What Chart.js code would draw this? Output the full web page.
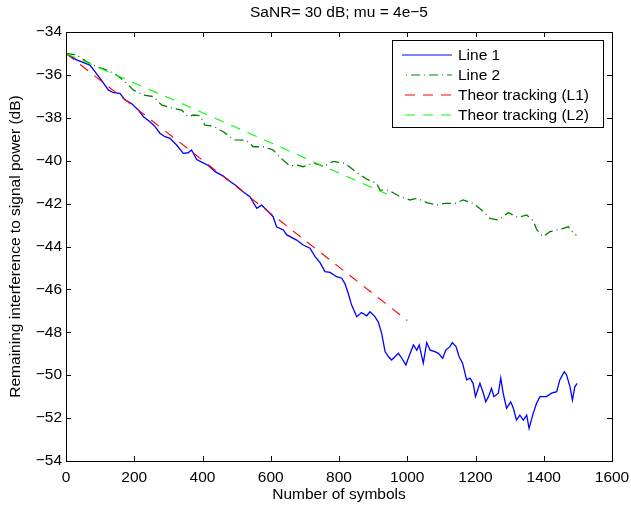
<!DOCTYPE html>
<html>
<head>
<meta charset="utf-8">
<script src="https://cdn.jsdelivr.net/npm/chart.js@4.4.1/dist/chart.umd.min.js"></script>
<style>
  html, body { margin: 0; padding: 0; background: #fff; }
  #wrap { width: 631px; height: 507px; }
</style>
</head>
<body>
<div id="wrap"><canvas id="chart" width="631" height="507"></canvas></div>
<script>
// Residual interference vs. number of symbols (SaNR 30 dB, mu = 4e-5)
const xTicks = [0, 200, 400, 600, 800, 1000, 1200, 1400, 1600];
const yTicks = [-54, -52, -50, -48, -46, -44, -42, -40, -38, -36, -34];

const line1X = [0, 31, 70, 100, 124, 139, 158, 173, 192, 212, 227, 246, 261, 275, 290, 305, 324, 344, 358, 368,
  383, 402, 417, 437, 461, 480, 500, 519, 539, 559, 573, 588, 607, 617, 637, 647, 676, 695, 715, 730,
  744, 759, 774, 793, 808, 817, 827, 837, 852, 866, 881, 891, 905, 915, 925, 935, 945, 954, 964, 974,
  984, 996, 1003, 1018, 1028, 1035, 1047, 1057, 1067, 1081, 1091, 1104, 1113, 1125, 1132, 1143, 1152, 1162, 1174, 1184,
  1193, 1200, 1213, 1223, 1230, 1238, 1247, 1254, 1267, 1274, 1281, 1291, 1303, 1311, 1320, 1330, 1340, 1350, 1357, 1369,
  1379, 1389, 1408, 1423, 1438, 1447, 1460, 1467, 1477, 1484, 1491, 1498];
const line1Y = [-35.0, -35.3, -35.54, -36.16, -36.70, -36.83, -36.86, -37.17, -37.33, -37.64, -37.95, -38.18, -38.41, -38.72, -38.88, -38.96, -39.27, -39.66, -39.63, -39.50,
  -39.95, -40.10, -40.22, -40.51, -40.72, -40.96, -41.18, -41.45, -41.68, -42.22, -42.07, -42.30, -42.61, -43.08, -43.23, -43.46, -43.70, -43.93, -44.08, -44.47,
  -44.74, -45.17, -45.21, -45.41, -45.48, -45.72, -46.18, -46.73, -47.27, -47.08, -47.23, -47.04, -47.27, -47.51, -48.05, -48.90, -49.14, -49.29, -49.14, -48.98,
  -49.21, -49.52, -49.21, -48.59, -48.83, -48.59, -49.44, -48.48, -48.83, -48.90, -48.98, -49.21, -48.83, -48.67, -48.48, -48.67, -49.14, -49.44, -50.22, -50.14,
  -50.38, -51.00, -50.38, -50.84, -51.24, -51.00, -50.61, -51.00, -50.84, -50.14, -50.84, -51.54, -51.24, -51.54, -52.09, -51.86, -52.09, -51.86, -52.48, -51.78,
  -51.31, -51.00, -51.00, -50.84, -50.77, -50.22, -49.84, -49.99, -50.54, -51.16, -50.54, -50.38];

const line2X = [0, 31, 60, 90, 119, 148, 173, 197, 226, 256, 280, 314, 339, 358, 373, 393, 407, 432, 451, 461,
  480, 495, 529, 549, 578, 607, 627, 656, 676, 695, 725, 744, 754, 783, 817, 852, 881, 910, 920, 945,
  979, 1008, 1028, 1057, 1086, 1110, 1140, 1164, 1193, 1218, 1242, 1267, 1296, 1325, 1350, 1369, 1379, 1398, 1418, 1438,
  1457, 1472, 1491, 1496];
const line2Y = [-35.0, -35.07, -35.38, -35.62, -35.77, -36.00, -36.32, -36.70, -36.94, -37.01, -37.40, -37.56, -37.64, -37.95, -37.87, -37.90, -38.34, -38.38, -38.57, -38.65,
  -38.88, -39.03, -39.05, -39.35, -39.35, -39.50, -39.85, -40.24, -40.20, -40.28, -40.12, -40.20, -40.28, -40.03, -40.12, -40.55, -40.86, -41.05, -41.37, -41.37,
  -41.68, -41.83, -41.75, -41.95, -42.07, -41.99, -41.99, -41.83, -41.99, -42.30, -42.69, -42.77, -42.42, -42.65, -42.53, -42.80, -43.20, -43.54, -43.31, -43.23,
  -43.15, -43.08, -43.46, -43.46];

const theor1X = [0, 217, 632, 1000];
const theor1Y = [-35.0, -37.70, -42.86, -47.45];

const theor2X = [0, 349, 794, 940];
const theor2Y = [-35.0, -37.40, -40.53, -41.55];

const seriesNames = ['Line 1', 'Line 2', 'Theor tracking (L1)', 'Theor tracking (L2)'];
const seriesColors = ['#0000ff', '#008000', '#ff0000', '#00ff00'];
const seriesDash = [[], [9, 4, 1, 4], [10, 8], [10, 8]];
const legendDashOffset = [0, 9, 15, 15];

const FONT = "'Liberation Sans', Arial, Helvetica, sans-serif";
Chart.defaults.font.family = FONT;
Chart.defaults.font.size = 15.5;
Chart.defaults.color = '#000';

const toPoints = (xs, ys) => xs.map((x, i) => ({ x, y: ys[i] }));
const minus = (v) => String(v).replace('-', '\u2212');

// axes box, inward tick marks on all four sides, title and boxed legend
const matlabFrame = {
  id: 'matlabFrame',
  afterDatasetsDraw(chart) {
    const { ctx, chartArea: a, scales } = chart;
    ctx.save();
    ctx.strokeStyle = '#000';
    ctx.lineWidth = 1;
    ctx.beginPath();
    const tl = 5;
    xTicks.forEach(v => {
      const px = Math.round(scales.x.getPixelForValue(v)) + 0.5;
      ctx.moveTo(px, a.bottom); ctx.lineTo(px, a.bottom - tl);
      ctx.moveTo(px, a.top); ctx.lineTo(px, a.top + tl);
    });
    yTicks.forEach(v => {
      const py = Math.round(scales.y.getPixelForValue(v)) + 0.5;
      ctx.moveTo(a.left, py); ctx.lineTo(a.left + tl, py);
      ctx.moveTo(a.right, py); ctx.lineTo(a.right - tl, py);
    });
    ctx.stroke();
    ctx.strokeRect(Math.round(a.left) + 0.5, Math.round(a.top) + 0.5,
      Math.round(a.right - a.left), Math.round(a.bottom - a.top));

    // title
    ctx.fillStyle = '#000';
    ctx.font = `15.5px ${FONT}`;
    ctx.textAlign = 'center';
    ctx.textBaseline = 'middle';
    ctx.fillText('SaNR= 30 dB; mu = 4e\u22125', (a.left + a.right) / 2, 13);

    // legend
    const box = { x: 392, y: 40, w: 211, h: 87 };
    ctx.fillStyle = '#fff';
    ctx.fillRect(box.x, box.y, box.w, box.h);
    ctx.strokeRect(box.x + 0.5, box.y + 0.5, box.w, box.h);
    ctx.textAlign = 'left';
    seriesNames.forEach((name, i) => {
      const y = Math.round(box.y + 14.5 + i * 20.3);
      ctx.save();
      ctx.strokeStyle = seriesColors[i];
      ctx.lineWidth = 1.2;
      ctx.setLineDash(seriesDash[i]);
      ctx.lineDashOffset = legendDashOffset[i];
      ctx.beginPath();
      ctx.moveTo(402, y); ctx.lineTo(452, y);
      ctx.stroke();
      ctx.restore();
      ctx.fillStyle = '#000';
      ctx.fillText(name, 458, y + 0.5);
    });
    ctx.restore();
  }
};

const seriesData = [
  toPoints(line1X, line1Y),
  toPoints(line2X, line2Y),
  toPoints(theor1X, theor1Y),
  toPoints(theor2X, theor2Y)
];

// later series are drawn on top, as in the original plot order
const datasets = seriesNames.map((name, i) => ({
  label: name,
  data: seriesData[i],
  borderColor: seriesColors[i],
  borderWidth: i < 2 ? 1.3 : 1.1,
  borderDash: seriesDash[i],
  order: 4 - i,
  pointRadius: 0,
  fill: false,
  tension: 0
}));

new Chart(document.getElementById('chart'), {
  type: 'line',
  data: { datasets },
  options: {
    responsive: false,
    animation: false,
    events: [],
    layout: { padding: { left: 0, right: 19, top: 32, bottom: 0 } },
    plugins: { legend: { display: false }, tooltip: { enabled: false }, title: { display: false } },
    scales: {
      x: {
        type: 'linear', min: 0, max: 1600,
        afterBuildTicks: (s) => { s.ticks = xTicks.map(v => ({ value: v })); },
        afterFit: (s) => { s.height = 46; s.paddingLeft = 0; s.paddingRight = 0; },
        grid: { display: false, drawTicks: false }, border: { display: false },
        ticks: { padding: 7, maxRotation: 0, autoSkip: false, callback: (v) => minus(v) },
        title: { display: true, text: 'Number of symbols', padding: { top: 0, bottom: 3 } }
      },
      y: {
        type: 'linear', min: -54, max: -34,
        afterBuildTicks: (s) => { s.ticks = yTicks.map(v => ({ value: v })); },
        afterFit: (s) => { s.width = 66; s.paddingTop = 0; s.paddingBottom = 0; },
        grid: { display: false, drawTicks: false }, border: { display: false },
        ticks: { padding: 4, autoSkip: false, callback: (v) => minus(v) },
        title: { display: true, text: 'Remaining interference to signal power (dB)', padding: { top: 6, bottom: 0 } }
      }
    }
  },
  plugins: [matlabFrame]
});
</script>
</body>
</html>
